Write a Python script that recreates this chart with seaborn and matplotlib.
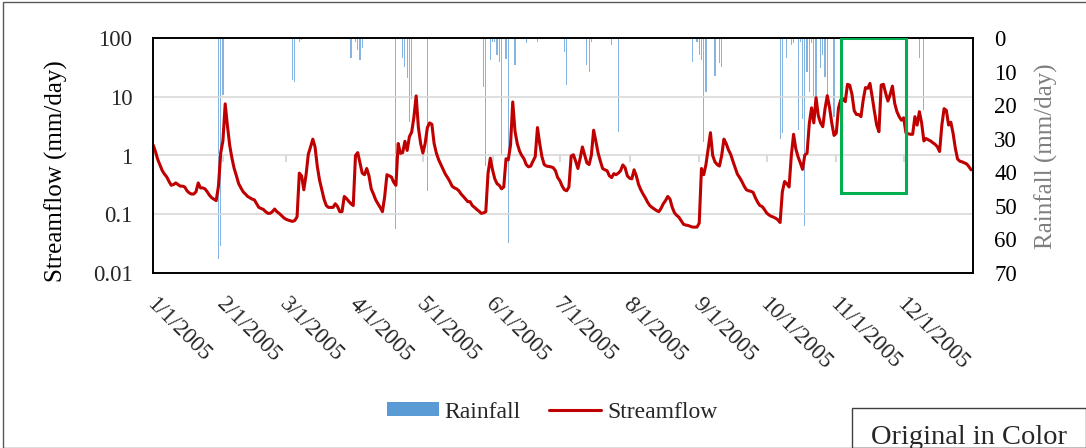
import numpy as np
import pandas as pd
import matplotlib
matplotlib.use("Agg")
import matplotlib.pyplot as plt
import matplotlib.transforms as mtransforms
from matplotlib.patches import Rectangle, Patch
from matplotlib.lines import Line2D
from matplotlib.ticker import FixedLocator, FixedFormatter, NullLocator
import seaborn as sns

# Daily streamflow (mm/day), 2005, one list per month
flow_jan = [1.5, 1.15, 0.85, 0.68, 0.55, 0.48, 0.43, 0.36, 0.31, 0.32,
            0.34, 0.32, 0.30, 0.30, 0.29, 0.25, 0.23, 0.22, 0.22, 0.24,
            0.34, 0.28, 0.28, 0.27, 0.24, 0.21, 0.19, 0.18, 0.17, 0.3,
            1.1]
flow_feb = [1.8, 7.6, 3.2, 1.5, 0.9, 0.6, 0.45, 0.33, 0.28, 0.24,
            0.22, 0.2, 0.19, 0.18, 0.175, 0.15, 0.13, 0.125, 0.12, 0.11,
            0.103, 0.103, 0.11, 0.122, 0.11, 0.103, 0.095, 0.087]
flow_mar = [0.082, 0.079, 0.077, 0.075, 0.078, 0.09, 0.5, 0.45, 0.26, 0.47,
            1.05, 1.4, 1.9, 1.4, 0.65, 0.38, 0.26, 0.18, 0.14, 0.13,
            0.13, 0.13, 0.15, 0.135, 0.11, 0.11, 0.2, 0.185, 0.165, 0.15,
            0.14]
flow_apr = [1.0, 1.12, 0.75, 0.5, 0.47, 0.6, 0.45, 0.27, 0.22, 0.175,
            0.15, 0.13, 0.11, 0.2, 0.47, 0.45, 0.43, 0.35, 0.31, 1.6,
            1.09, 1.12, 1.75, 1.22, 2.1, 2.5, 4.5, 10.4, 3.0, 1.6]
flow_may = [1.1, 1.6, 3.0, 3.6, 3.4, 1.6, 1.1, 0.85, 0.7, 0.58,
            0.48, 0.42, 0.36, 0.3, 0.28, 0.27, 0.25, 0.22, 0.2, 0.18,
            0.163, 0.163, 0.14, 0.13, 0.12, 0.112, 0.103, 0.105, 0.11, 0.5,
            0.9]
flow_jun = [0.57, 0.4, 0.33, 0.31, 0.27, 0.29, 0.88, 0.84, 1.5, 8.2,
            2.6, 1.6, 1.2, 1.0, 0.88, 0.7, 0.64, 0.66, 0.8, 0.95,
            3.0, 1.6, 0.95, 0.7, 0.66, 0.65, 0.64, 0.62, 0.55, 0.42]
flow_jul = [0.37, 0.3, 0.26, 0.25, 0.29, 0.98, 1.03, 0.8, 0.6, 0.89,
            1.4, 1.02, 0.75, 0.7, 1.02, 2.7, 1.75, 1.1, 0.8, 0.6,
            0.57, 0.55, 0.45, 0.42, 0.49, 0.47, 0.5, 0.55, 0.69, 0.62,
            0.45]
flow_aug = [0.41, 0.4, 0.57, 0.45, 0.32, 0.26, 0.22, 0.19, 0.16, 0.14,
            0.13, 0.122, 0.115, 0.11, 0.125, 0.15, 0.17, 0.2, 0.18, 0.13,
            0.105, 0.095, 0.088, 0.077, 0.067, 0.065, 0.064, 0.062, 0.06, 0.06,
            0.06]
flow_sep = [0.07, 0.6, 0.47, 0.7, 1.3, 2.45, 1.0, 0.78, 0.7, 0.66,
            1.0, 1.9, 1.6, 1.25, 1.05, 0.8, 0.62, 0.48, 0.42, 0.36,
            0.3, 0.26, 0.25, 0.245, 0.235, 0.19, 0.16, 0.14, 0.135, 0.12]
flow_oct = [0.105, 0.097, 0.092, 0.089, 0.085, 0.08, 0.072, 0.24, 0.36, 0.33,
            0.29, 1.0, 2.3, 1.3, 0.95, 0.75, 0.58, 1.02, 1.09, 3.5,
            6.5, 3.6, 9.7, 4.8, 3.6, 3.1, 6.3, 10.5, 6.6, 3.6,
            2.2]
flow_nov = [2.4, 6.5, 8.9, 9.3, 8.3, 16.4, 15.8, 11, 5.8, 5.0,
            5.0, 4.6, 8.9, 14.4, 14, 17, 10, 5.6, 3.3, 2.55,
            15.9, 16.4, 11.5, 8.5, 11, 15.3, 7.8, 5.6, 4.6, 4.0]
flow_dec = [4.4, 2.45, 2.35, 2.3, 2.3, 4.6, 3.3, 5.6, 3.6, 1.77,
            1.95, 1.85, 1.77, 1.65, 1.55, 1.41, 1.17, 3.3, 6.3, 5.9,
            3.3, 3.7, 2.4, 1.33, 0.87, 0.8, 0.78, 0.75, 0.72, 0.65,
            0.57]

# Daily rainfall (mm/day) on rainy days
rain_dates = ["2005-01-30", "2005-01-31", "2005-02-01", "2005-03-04", "2005-03-05",
              "2005-03-07", "2005-03-08", "2005-03-30", "2005-04-01", "2005-04-02",
              "2005-04-03", "2005-04-04", "2005-04-19", "2005-04-22", "2005-04-23",
              "2005-04-24", "2005-04-25", "2005-04-26", "2005-05-03", "2005-05-28",
              "2005-05-29", "2005-05-31", "2005-06-01", "2005-06-02", "2005-06-03",
              "2005-06-04", "2005-06-05", "2005-06-07", "2005-06-08", "2005-06-11",
              "2005-06-16", "2005-06-21", "2005-07-03", "2005-07-04", "2005-07-13",
              "2005-07-14", "2005-07-15", "2005-07-24", "2005-07-27", "2005-08-29",
              "2005-08-31", "2005-09-01", "2005-09-02", "2005-09-03", "2005-09-04",
              "2005-09-08", "2005-09-10", "2005-09-11", "2005-10-07", "2005-10-08",
              "2005-10-10", "2005-10-12", "2005-10-13", "2005-10-15", "2005-10-16",
              "2005-10-17", "2005-10-18", "2005-10-19", "2005-10-20", "2005-10-21",
              "2005-10-22", "2005-10-23", "2005-10-25", "2005-10-26", "2005-10-27",
              "2005-10-28", "2005-10-31", "2005-12-08", "2005-12-10"]
rain_mm = [66, 62, 17, 12.5, 13,
           1.2, 0.6, 6, 1, 3.5,
           6.5, 3, 57, 6, 8.5,
           12, 25, 18, 45.5, 14.5,
           38, 6.5, 1, 1, 5,
           7, 35, 6.2, 61, 8,
           1.5, 1.2, 4, 14, 8,
           10, 1, 2, 28, 7.2,
           1, 5, 6.5, 31, 16,
           11.4, 7.5, 8.5, 30, 28.3,
           6, 2, 1.5, 27.3, 1,
           24, 56, 10, 16, 1.5,
           17.5, 21.5, 9, 5, 11.5,
           17.4, 23.5, 6, 21.4]

month_labels = ["1/1/2005", "2/1/2005", "3/1/2005", "4/1/2005", "5/1/2005", "6/1/2005",
                "7/1/2005", "8/1/2005", "9/1/2005", "10/1/2005", "11/1/2005", "12/1/2005"]
flow_ticks = [0.01, 0.1, 1, 10, 100]
flow_tick_labels = ["0.01", "0.1", "1", "10", "100"]
rain_ticks = [0, 10, 20, 30, 40, 50, 60, 70]

# Period of interest outlined in green
highlight_start = "2005-11-03"
highlight_end = "2005-12-02"
highlight_floor = 0.23

FLOW_RED = "#c00000"
RAIN_BLUE = "#5b9bd5"
GRID_GREY = "#d9d9d9"

sns.set_theme(style="white")
plt.rcParams["font.family"] = ["Liberation Serif", "DejaVu Serif"]

dates = pd.date_range("2005-01-01", periods=365, freq="D")
flow = np.concatenate([flow_jan, flow_feb, flow_mar, flow_apr, flow_may, flow_jun,
                       flow_jul, flow_aug, flow_sep, flow_oct, flow_nov, flow_dec])
flow_df = pd.DataFrame({"date": dates, "streamflow": flow})
rain_df = pd.DataFrame({"date": pd.to_datetime(rain_dates), "rainfall": rain_mm})

W, H = 1086, 448
fig = plt.figure(figsize=(W / 100, H / 100), dpi=100)
fig.patch.set_facecolor("white")

left, right, top, bottom = 153.3, 973.3, 38.3, 272.7
ax = fig.add_axes([left / W, 1 - bottom / H, (right - left) / W, (bottom - top) / H])
ax_rain = ax.twinx()
ax.set_zorder(ax_rain.get_zorder() + 1)
ax.patch.set_visible(False)

# Rainfall bars hanging from the top (inverted secondary axis)
ax_rain.bar(rain_df["date"], rain_df["rainfall"], width=0.5, color=RAIN_BLUE,
            alpha=0.75, linewidth=0, align="center")
ax_rain.set_ylim(70, 0)
ax_rain.yaxis.set_major_locator(FixedLocator(rain_ticks))
ax_rain.tick_params(axis="y", length=0, pad=15, labelsize=16.5, labelcolor="black")
for s in ax_rain.spines.values():
    s.set_visible(False)

# Streamflow line on a log axis
sns.lineplot(data=flow_df, x="date", y="streamflow", ax=ax, color=FLOW_RED,
             linewidth=2.2, legend=False)
ax.set_yscale("log")
ax.set_ylim(0.01, 100)
ax.yaxis.set_major_locator(FixedLocator(flow_ticks))
ax.yaxis.set_major_formatter(FixedFormatter(flow_tick_labels))
ax.yaxis.set_minor_locator(NullLocator())
ax.tick_params(axis="y", length=0, pad=15, labelsize=16.5)
ax.yaxis.grid(True, color=GRID_GREY, linewidth=1.2)
ax.xaxis.grid(False)
ax.set_xlabel("")
ax.set_ylabel("")

x0, x1 = pd.Timestamp("2005-01-01"), pd.Timestamp("2006-01-01")
ax.set_xlim(x0, x1)
month_starts = pd.date_range("2005-01-01", periods=12, freq="MS")
ax.set_xticks(month_starts)
ax.set_xticklabels(month_labels, rotation=-45, ha="left", va="top",
                   rotation_mode="anchor", fontsize=16.5)
ax.tick_params(axis="x", length=0, pad=15)
shift = mtransforms.ScaledTranslation(4 / 100, 0, fig.dpi_scale_trans)
for lbl in ax.get_xticklabels():
    lbl.set_transform(lbl.get_transform() + shift)

# Horizontal category axis crosses at 1: small grey tick marks there
tick_dates = pd.date_range("2005-01-01", periods=13, freq="MS")
ax.vlines(tick_dates, 0.76, 1.0, color=GRID_GREY, linewidth=1.5, zorder=1)

for s in ax.spines.values():
    s.set_visible(True)
    s.set_color("black")
    s.set_linewidth(1.4)

# Highlight box
ax.add_patch(Rectangle((pd.Timestamp(highlight_start), highlight_floor),
                       pd.Timestamp(highlight_end) - pd.Timestamp(highlight_start),
                       100 - highlight_floor, fill=False, edgecolor="#00b050",
                       linewidth=2.2, zorder=5))

fig.text(56 / W, 1 - 171 / H, "Streamflow (mm/day)", rotation=90, ha="center",
         va="center", fontsize=18, color="black")
fig.text(1046 / W, 1 - 156 / H, "Rainfall (mm/day)", rotation=90, ha="center",
         va="center", fontsize=18, color="#7f7f7f")

handles = [Patch(facecolor=RAIN_BLUE, edgecolor="none", label="Rainfall"),
           Line2D([], [], color=FLOW_RED, linewidth=2.2, label="Streamflow")]
fig.legend(handles=handles, loc="center", bbox_to_anchor=(552 / W, 1 - 412 / H),
           ncol=2, frameon=False, fontsize=17, handlelength=2.2, handleheight=0.5,
           handletextpad=0.25, columnspacing=1.2)

# Note box at the lower right and outer chart border
fig.add_artist(Rectangle((852 / W, 0), 1 - 852 / W, 1 - 408 / H, transform=fig.transFigure,
                         fill=False, edgecolor="#404040", linewidth=1.0))
fig.text(871 / W, 1 - 437 / H, "Original in Color", ha="left", va="center", fontsize=20.5)
fig.add_artist(Rectangle((3 / W, 0), 1, 1 - 2 / H, transform=fig.transFigure,
                         fill=False, edgecolor="#595959", linewidth=1.0))

fig.savefig("out.png", dpi=100)
